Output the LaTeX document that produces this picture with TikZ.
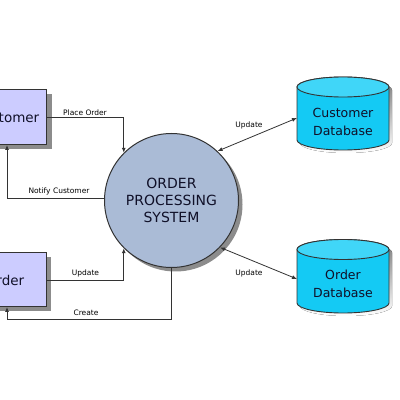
\documentclass[tikz,border=0pt]{standalone}
\usepackage{fontspec}
\setmainfont{DejaVu Sans}
\usetikzlibrary{arrows.meta,shadows}
\definecolor{boxfill}{HTML}{CCCCFF}
\definecolor{procfill}{HTML}{AABBD6}
\definecolor{dbbody}{HTML}{14CAF4}
\definecolor{dbtop}{HTML}{40D6F8}
\definecolor{edge}{HTML}{333333}
\definecolor{shade}{HTML}{8C8C8C}
\definecolor{ink}{HTML}{101028}
\newcommand\dbcyl[3]{%
  \fill[shade] ({#1-46+3},{#2-3}) -- ({#1-46+3},{#3-3}) arc[start angle=180,end angle=360,x radius=46,y radius=10] -- ({#1+46+3},{#2-3}) arc[start angle=0,end angle=180,x radius=46,y radius=10] -- cycle;
  \draw[draw=edge,line width=0.9pt,fill=dbbody] ({#1-46},#2) -- ({#1-46},#3) arc[start angle=180,end angle=360,x radius=46,y radius=10] -- ({#1+46},#2) arc[start angle=0,end angle=180,x radius=46,y radius=10] -- cycle;
  \draw[draw=edge,line width=0.9pt,fill=dbtop] (#1,#2) ellipse[x radius=46,y radius=10];
}
\begin{document}
\begin{tikzpicture}[x=1pt,y=1pt,
  entity/.style={draw=edge, line width=1pt, fill=boxfill, inner sep=0pt, text=ink,
    font=\fontsize{13.5}{16}\selectfont,
    drop shadow={shadow xshift=5pt, shadow yshift=-4pt, fill=shade, opacity=1}},
  procnode/.style={circle, draw=edge, line width=1pt, fill=procfill, inner sep=0pt,
    minimum size=134pt, align=center, text=ink, font=\fontsize{14}{17}\selectfont,
    drop shadow={shadow xshift=4pt, shadow yshift=-4pt, fill=shade, opacity=1}},
  dbtext/.style={align=center, font=\fontsize{12.5}{17.4}\selectfont, text=ink},
  lbl/.style={font=\fontsize{7.5}{9}\selectfont, inner sep=0pt},
  flow/.style={draw=edge, line width=0.8pt, -{Latex[length=5pt,width=4pt]}},
  both/.style={draw=edge, line width=0.8pt, {Latex[length=5pt,width=4pt]}-{Latex[length=5pt,width=4pt]}}]
\useasboundingbox (0,0) rectangle (400,400);
\fill[white] (0,0) rectangle (400,400);

% external entities
\node[entity, minimum width=80pt, minimum height=55pt] (cust) at (6.5,282.5) {Customer};
\node[entity, minimum width=82pt, minimum height=54pt] (order) at (5,120) {Order};

% process
\node[procnode] (proc) at (171.5,199.5) {ORDER\\PROCESSING\\SYSTEM};

% data stores
\dbcyl{343}{313}{260}
\dbcyl{343}{150.5}{97}
\node[dbtext] (cdb) at (343,278) {Customer\\Database};
\node[dbtext] (odb) at (343,116) {Order\\Database};
\coordinate (cdbw) at (297,282);
\coordinate (odbw) at (297,121);

% helper points
\coordinate (cbot) at (7,255);
\coordinate (obot) at (7,93);
\coordinate (ccorner) at (7,81);

% connectors
\draw[flow] (cust.east) -| (proc.135);
\draw[flow] ([yshift=2pt]proc.west) -| (cbot);
\draw[flow] (order.east) -| (proc.225);
\draw[flow] (proc.south) |- (ccorner) -- (obot);
\draw[both] (proc.47) -- (cdbw);
\draw[both] (proc.-44) -- (odbw);

% labels
\node[lbl] (lpo) at (85,287) {Place Order};
\node[lbl] (lnc) at (59,209) {Notify Customer};
\node[lbl] (luo) at (85.5,126.5) {Update};
\node[lbl] (lcr) at (86,87.5) {Create};
\node[lbl] (luc) at (249,275) {Update};
\node[lbl] (lud) at (249,127) {Update};
\end{tikzpicture}
\end{document}
